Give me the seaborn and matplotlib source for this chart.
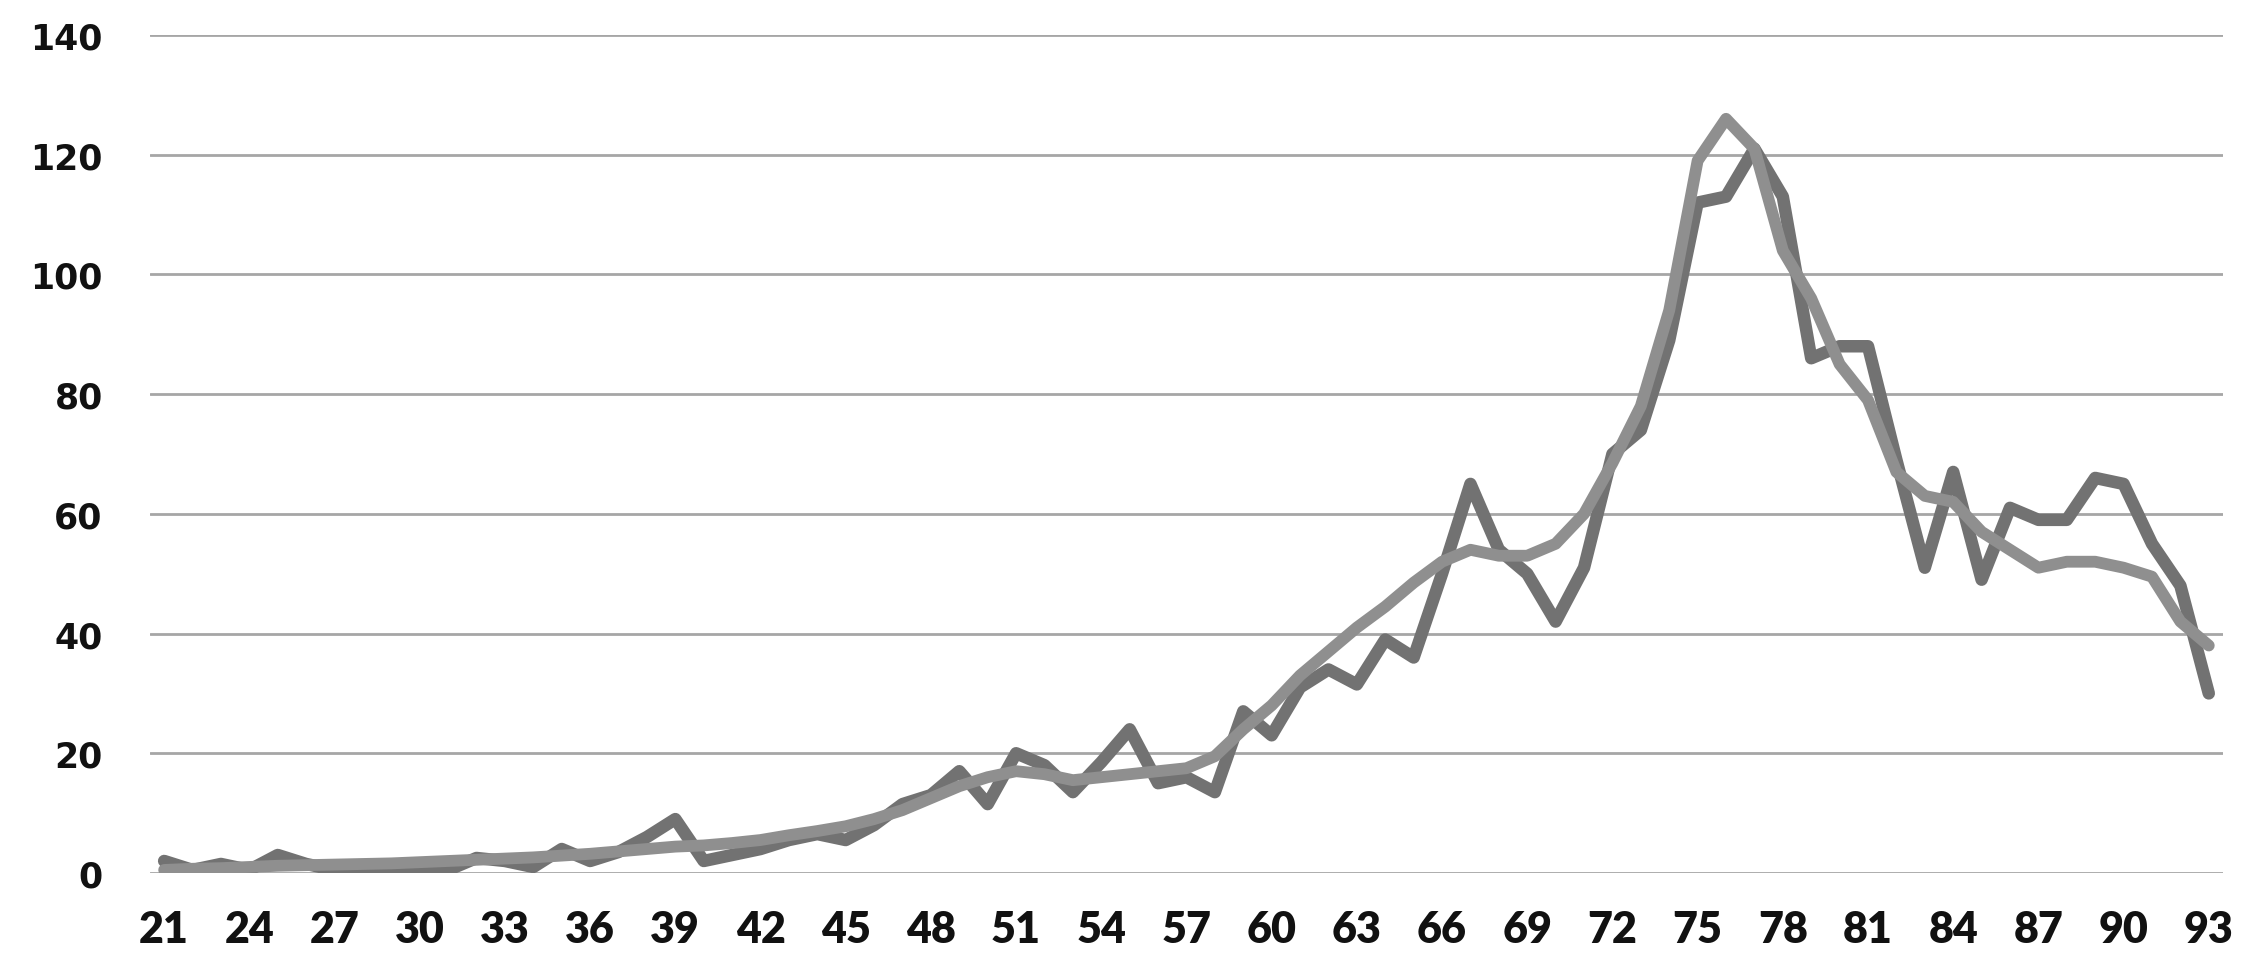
import pandas as pd
import matplotlib.pyplot as plt
import seaborn as sns

# years on the x axis
years = list(range(21, 94))

# jagged series (darker line)
actual = [2, 0.5, 1.5, 0.5, 3, 1.5, 0.5, 0.5, 0, 0,
          0.5, 2.5, 2, 1, 4, 2, 3.5, 6, 9, 2,
          3, 4, 5.5, 6.5, 5.5, 8, 11.5, 13, 17, 11.5,
          20, 18, 13.5, 18.5, 24, 15, 16, 13.5, 27, 23,
          31, 34, 31.5, 39, 36, 50, 65, 54, 50, 42,
          51, 70, 74, 89, 112, 113, 121, 113, 86, 88,
          88, 69, 51, 67, 49, 61, 59, 59, 66, 65,
          55, 48, 30]

# smoothed series (lighter line)
smoothed = [0.5, 0.7, 0.8, 1, 1.2, 1.3, 1.4, 1.5, 1.6, 1.8,
            2, 2.2, 2.4, 2.6, 2.9, 3.2, 3.6, 4, 4.4, 4.6,
            5, 5.5, 6.3, 7, 7.8, 9, 10.5, 12.5, 14.5, 16,
            17, 16.5, 15.5, 16, 16.5, 17, 17.5, 19.5, 24, 28,
            33, 37, 41, 44.5, 48.5, 52, 54, 53, 53, 55,
            60, 68.5, 78, 94, 119, 126, 121, 104, 96, 85,
            79, 67, 63, 62, 57, 54, 51, 52, 52, 51,
            49.5, 42, 38]

y_ticks = [0, 20, 40, 60, 80, 100, 120, 140]
x_ticks = years[::3]

df = pd.DataFrame({'year': years, 'actual': actual, 'smoothed': smoothed})

sns.set_style("white")

fig = plt.figure(figsize=(22.55, 9.79), dpi=100)
ax = fig.add_axes([0.0665, 0.1073, 0.9193, 0.8559])

sns.lineplot(data=df, x='year', y='actual', ax=ax, color='#727272', linewidth=9)
sns.lineplot(data=df, x='year', y='smoothed', ax=ax, color='#8f8f8f', linewidth=8.5)

ax.set_xlim(20.5, 93.5)
ax.set_ylim(0, 140)
ax.set_yticks(y_ticks)
ax.set_xticks(x_ticks)
ax.set_xticklabels([str(v) for v in x_ticks], family='Lato',
                   fontweight='heavy', fontsize=31, color='#111111')
ax.set_yticklabels([str(v) for v in y_ticks], family='DejaVu Sans', fontweight='bold',
                   fontsize=25, color='#111111')
ax.tick_params(axis='y', length=0, pad=34)
ax.tick_params(axis='x', length=0, pad=26)
ax.set_xlabel('')
ax.set_ylabel('')

ax.grid(axis='y', color='#a6a6a6', linewidth=2)
ax.grid(axis='x', visible=False)
ax.set_axisbelow(True)
for s in ax.spines.values():
    s.set_visible(False)

fig.savefig('out.png', dpi=100)
